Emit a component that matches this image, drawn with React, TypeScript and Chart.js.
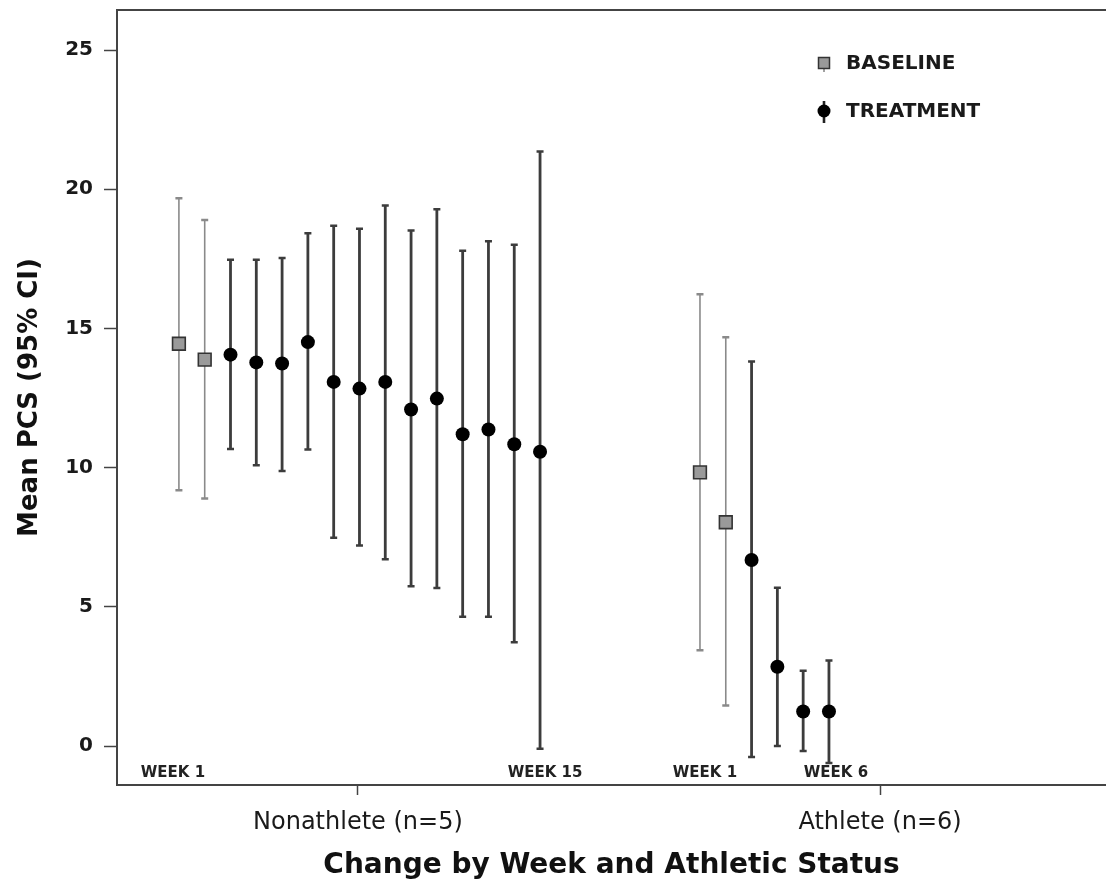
import React, { useEffect, useRef } from "react";
import { Chart, registerables } from "chart.js";

Chart.register(...registerables);

// ---- data ----
const groupLabels = ["Nonathlete (n=5)", "Athlete (n=6)"];
const nonathleteWeeks = ["WEEK 1", "WEEK 2", "WEEK 3", "WEEK 4", "WEEK 5", "WEEK 6", "WEEK 7", "WEEK 8", "WEEK 9", "WEEK 10", "WEEK 11", "WEEK 12", "WEEK 13", "WEEK 14", "WEEK 15"];
const nonathleteMean = [14.45, 13.88, 14.06, 13.78, 13.74, 14.51, 13.08, 12.84, 13.08, 12.09, 12.48, 11.2, 11.37, 10.84, 10.57];
const nonathleteLower = [9.19, 8.89, 10.67, 10.09, 9.88, 10.65, 7.48, 7.2, 6.71, 5.74, 5.68, 4.64, 4.64, 3.73, -0.1];
const nonathleteUpper = [19.68, 18.9, 17.47, 17.47, 17.53, 18.42, 18.69, 18.58, 19.42, 18.52, 19.28, 17.79, 18.13, 18.01, 21.36];
const nonathleteBaselineCount = 2;

const athleteWeeks = ["WEEK 1", "WEEK 2", "WEEK 3", "WEEK 4", "WEEK 5", "WEEK 6"];
const athleteMean = [9.83, 8.04, 6.68, 2.85, 1.24, 1.24];
const athleteLower = [3.44, 1.46, -0.39, 0.0, -0.18, -0.61];
const athleteUpper = [16.23, 14.68, 13.81, 5.69, 2.7, 3.07];
const athleteBaselineCount = 2;

const yTicks = [0, 5, 10, 15, 20, 25];

// ---- layout constants (x axis in "week slot" units) ----
const NON_OFFSET = 0;
const ATH_OFFSET = 20.2;
const groupTickX = [7.94, 28.18];
const X_MIN = -1.4;
const X_MAX = 36.94;
const Y_MIN = -1.4;
const Y_MAX = 26.44;

type Pt = { x: number; y: number; lo: number; hi: number; week: string };

function buildGroup(weeks: string[], mean: number[], lo: number[], hi: number[], offset: number): Pt[] {
  return weeks.map((w, i) => ({ x: offset + i + 1, y: mean[i], lo: lo[i], hi: hi[i], week: w }));
}

const nonPts = buildGroup(nonathleteWeeks, nonathleteMean, nonathleteLower, nonathleteUpper, NON_OFFSET);
const athPts = buildGroup(athleteWeeks, athleteMean, athleteLower, athleteUpper, ATH_OFFSET);

const baselinePts = [...nonPts.slice(0, nonathleteBaselineCount), ...athPts.slice(0, athleteBaselineCount)];
const treatmentPts = [...nonPts.slice(nonathleteBaselineCount), ...athPts.slice(athleteBaselineCount)];

const FONT = "'DejaVu Sans', sans-serif";

const errorBarPlugin = {
  id: "errorBars",
  beforeDatasetsDraw(chart: any) {
    const { ctx, scales } = chart;
    const xs = scales.x;
    const ys = scales.y;
    const draw = (pts: Pt[], color: string, width: number) => {
      ctx.save();
      ctx.strokeStyle = color;
      pts.forEach((p) => {
        const px = xs.getPixelForValue(p.x);
        const pl = ys.getPixelForValue(p.lo);
        const ph = ys.getPixelForValue(p.hi);
        ctx.lineWidth = width;
        ctx.beginPath();
        ctx.moveTo(px, pl);
        ctx.lineTo(px, ph);
        ctx.stroke();
        ctx.lineWidth = 2.5;
        ctx.beginPath();
        ctx.moveTo(px - 3.5, pl);
        ctx.lineTo(px + 3.5, pl);
        ctx.moveTo(px - 3.5, ph);
        ctx.lineTo(px + 3.5, ph);
        ctx.stroke();
      });
      ctx.restore();
    };
    draw(baselinePts, "#8a8a8a", 1.6);
    draw(treatmentPts, "#3c3c3c", 2.8);
  },
};

const weekLabelShift = [-6, 5, 5, 7];

const decorPlugin = {
  id: "decor",
  afterDraw(chart: any) {
    const { ctx, chartArea, scales } = chart;
    const xs = scales.x;
    ctx.save();
    // top frame line
    ctx.strokeStyle = "#444";
    ctx.lineWidth = 2;
    ctx.beginPath();
    ctx.moveTo(chartArea.left, chartArea.top);
    ctx.lineTo(chartArea.right, chartArea.top);
    ctx.stroke();

    // week labels at the ends of each group
    ctx.fillStyle = "#222";
    ctx.font = `bold 15px ${FONT}`;
    ctx.textAlign = "center";
    ctx.textBaseline = "middle";
    const ends = [nonPts[0], nonPts[nonPts.length - 1], athPts[0], athPts[athPts.length - 1]];
    ends.forEach((p, i) => {
      ctx.fillText(p.week, xs.getPixelForValue(p.x) + weekLabelShift[i], chartArea.bottom - 12);
    });

    // legend
    const lx = 824;
    const rows = [
      { y: 63, label: "BASELINE", type: "rect" },
      { y: 111, label: "TREATMENT", type: "circle" },
    ];
    rows.forEach((r) => {
      if (r.type === "rect") {
        ctx.strokeStyle = "#8a8a8a";
        ctx.lineWidth = 1.6;
        ctx.beginPath();
        ctx.moveTo(lx, r.y);
        ctx.lineTo(lx, r.y + 9);
        ctx.stroke();
        ctx.fillStyle = "#999";
        ctx.strokeStyle = "#333";
        ctx.lineWidth = 1.5;
        ctx.fillRect(lx - 5.5, r.y - 5.5, 11, 11);
        ctx.strokeRect(lx - 5.5, r.y - 5.5, 11, 11);
      } else {
        ctx.strokeStyle = "#222";
        ctx.lineWidth = 2.6;
        ctx.beginPath();
        ctx.moveTo(lx, r.y - 10);
        ctx.lineTo(lx, r.y + 12);
        ctx.stroke();
        ctx.fillStyle = "#000";
        ctx.beginPath();
        ctx.arc(lx, r.y, 6.5, 0, Math.PI * 2);
        ctx.fill();
      }
      ctx.fillStyle = "#1a1a1a";
      ctx.font = `bold 20px ${FONT}`;
      ctx.textAlign = "left";
      ctx.textBaseline = "middle";
      ctx.fillText(r.label, lx + 22, r.y + 1);
    });
    ctx.restore();
  },
};

export default function App() {
  const ref = useRef<HTMLCanvasElement | null>(null);

  useEffect(() => {
    document.body.style.margin = "0";
    const canvas = ref.current;
    if (!canvas) return;
    const chart = new Chart(canvas, {
      type: "scatter",
      data: {
        datasets: [
          {
            label: "BASELINE",
            data: baselinePts,
            pointStyle: "rect",
            pointRadius: 9,
            backgroundColor: "#9a9a9a",
            borderColor: "#333",
            borderWidth: 1.6,
          },
          {
            label: "TREATMENT",
            data: treatmentPts,
            pointStyle: "circle",
            pointRadius: 7,
            backgroundColor: "#000",
            borderColor: "#000",
            borderWidth: 0,
          },
        ],
      },
      options: {
        animation: false,
        responsive: false,
        events: [],
        layout: { autoPadding: false, padding: { top: 10, right: 0, left: 0, bottom: 0 } },
        plugins: {
          legend: { display: false },
          tooltip: { enabled: false },
        },
        scales: {
          x: {
            type: "linear",
            min: X_MIN,
            max: X_MAX,
            afterBuildTicks: (axis: any) => {
              axis.ticks = groupTickX.map((v) => ({ value: v }));
            },
            afterFit: (axis: any) => {
              axis.height = 99;
              axis.paddingLeft = 0;
              axis.paddingRight = 0;
            },
            grid: {
              drawOnChartArea: false,
              drawTicks: true,
              tickLength: 10,
              tickColor: "#444",
              tickWidth: 1.5,
            },
            border: { display: true, color: "#444", width: 2 },
            ticks: {
              autoSkip: false,
              maxRotation: 0,
              padding: 13,
              color: "#1a1a1a",
              font: { family: FONT, size: 24 },
              callback: (_v: any, i: number) => groupLabels[i],
            },
            title: {
              display: true,
              text: "Change by Week and Athletic Status",
              color: "#111",
              font: { family: FONT, size: 28, weight: "bold" },
              padding: { top: 0, bottom: 1 },
            },
          },
          y: {
            type: "linear",
            min: Y_MIN,
            max: Y_MAX,
            afterBuildTicks: (axis: any) => {
              axis.ticks = yTicks.map((v) => ({ value: v }));
            },
            afterFit: (axis: any) => {
              axis.width = 117;
              axis.paddingTop = 0;
              axis.paddingBottom = 0;
            },
            grid: {
              drawOnChartArea: false,
              drawTicks: true,
              tickLength: 13,
              tickColor: "#444",
              tickWidth: 1.5,
            },
            border: { display: true, color: "#444", width: 2 },
            ticks: {
              padding: 11,
              color: "#1a1a1a",
              font: { family: FONT, size: 20, weight: "bold" },
            },
            title: {
              display: true,
              text: "Mean PCS (95% CI)",
              color: "#111",
              font: { family: FONT, size: 26, weight: "bold" },
              padding: { top: 15, bottom: 0 },
            },
          },
        },
      } as any,
      plugins: [errorBarPlugin, decorPlugin],
    });
    return () => chart.destroy();
  }, []);

  return (
    <div style={{ width: 1106, height: 884 }}>
      <canvas ref={ref} width={1106} height={884} style={{ display: "block" }} />
    </div>
  );
}
